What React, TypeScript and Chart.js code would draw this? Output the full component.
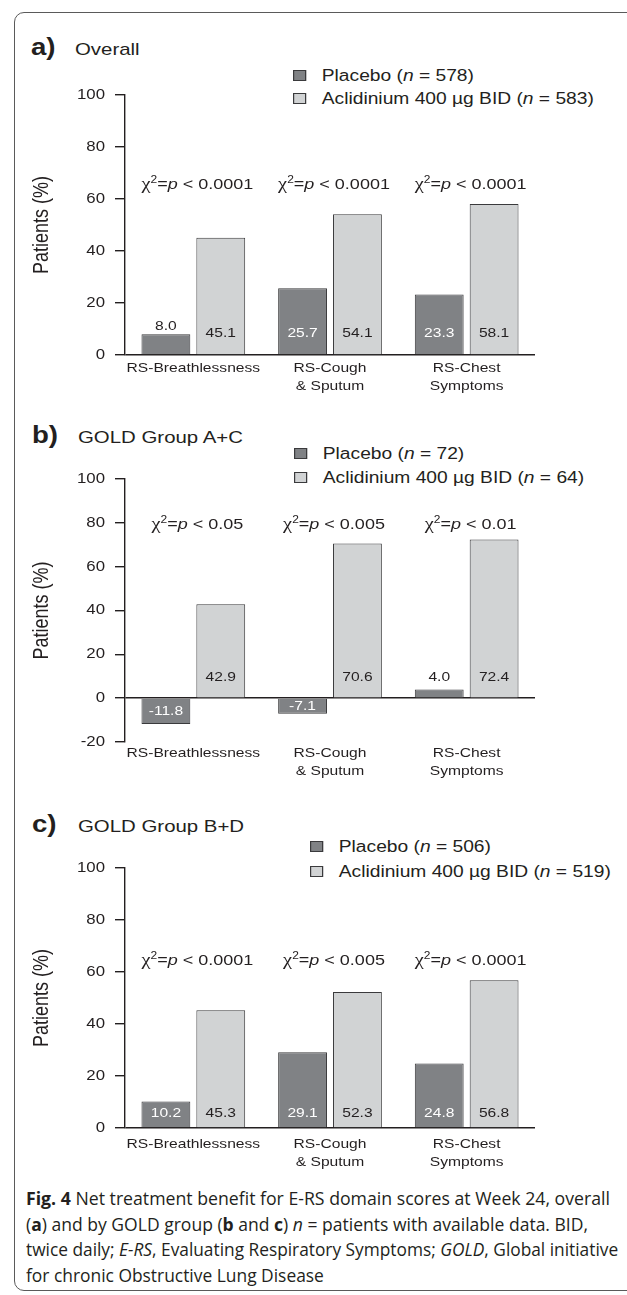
import React, { useEffect, useLayoutEffect, useRef } from 'react';
import { Chart, registerables } from 'chart.js';

Chart.register(...registerables);

// ---------- data ----------
const categories: (string | string[])[] = ['RS-Breathlessness', ['RS-Cough', '& Sputum'], ['RS-Chest', 'Symptoms']];
const placeboName = 'Placebo';
const aclidiniumName = 'Aclidinium 400 µg BID';
const yAxisTitle = 'Patients (%)';

const overallPlacebo = [8.0, 25.7, 23.3];
const overallAclidinium = [45.1, 54.1, 58.1];
const overallN = [578, 583];
const overallP = ['0.0001', '0.0001', '0.0001'];

const groupACPlacebo = [-11.8, -7.1, 4.0];
const groupACAclidinium = [42.9, 70.6, 72.4];
const groupACN = [72, 64];
const groupACP = ['0.05', '0.005', '0.01'];

const groupBDPlacebo = [10.2, 29.1, 24.8];
const groupBDAclidinium = [45.3, 52.3, 56.8];
const groupBDN = [506, 519];
const groupBDP = ['0.0001', '0.005', '0.0001'];

const yRangeMain = [0, 100];
const yRangeAC = [-20, 100];
const yStep = 20;

// ---------- style ----------
const FONT = "'Liberation Sans', Arial, Helvetica, sans-serif";
const GREEK_FONT = "'Liberation Serif', 'DejaVu Serif', serif";
const CAPTION_FONT = "'Open Sans', 'Noto Sans', sans-serif";
const TEXT = '#231f20';
const AXIS = '#231f20';
const PLACEBO_FILL = '#808285';
const ACLID_FILL = '#d1d3d4';
const BAR_EDGE = '#3a3a3c';
const SX = 1.2; // horizontal stretch of the figure's lettering
const PAGE_W = 627;
const PLOT_LEFT = 125;
const PLOT_RIGHT = 535;

const panels = [
  {
    letter: 'a)', title: 'Overall', placebo: overallPlacebo, aclidinium: overallAclidinium, n: overallN, pValues: overallP, range: yRangeMain,
    look: { baseline: 55, letterX: 31, titleX: 75, legendX: 293, legendBaselines: [82, 105], yTop: 95, yBottom: 355, chiGap: 20, valueOffset: 22, catPad: 4 },
  },
  {
    letter: 'b)', title: 'GOLD Group A+C', placebo: groupACPlacebo, aclidinium: groupACAclidinium, n: groupACN, pValues: groupACP, range: yRangeAC,
    look: { baseline: 443, letterX: 32, titleX: 78, legendX: 294, legendBaselines: [460, 484], yTop: 479, yBottom: 742, chiGap: 16, valueOffset: 21, catPad: 2 },
  },
  {
    letter: 'c)', title: 'GOLD Group B+D', placebo: groupBDPlacebo, aclidinium: groupBDAclidinium, n: groupBDN, pValues: groupBDP, range: yRangeMain,
    look: { baseline: 832, letterX: 32, titleX: 78, legendX: 310, legendBaselines: [853, 878], yTop: 868, yBottom: 1128, chiGap: 21, valueOffset: 15, catPad: 7 },
  },
];

const CAPTION_LEFT = 26;
const captionRight = [610, 588, 618, 324];
const captionBaselines = [1205, 1231, 1256, 1282];
const CAPTION_SIZE = 18.5;

// ---------- helpers ----------
function patchContext(ctx: any) {
  if (ctx.__stretched) return;
  const raw = ctx.fillText;
  ctx.fillText = function (text: string, x: number, y: number, maxWidth?: number) {
    const m = this.getTransform();
    const p = m.transformPoint(new DOMPoint(x, y));
    this.save();
    this.setTransform(new DOMMatrix().translate(p.x, p.y).scale(SX, 1).translate(-p.x, -p.y).multiply(m));
    if (maxWidth === undefined) raw.call(this, text, x, y);
    else raw.call(this, text, x, y, maxWidth);
    this.restore();
  };
  ctx.__stretched = true;
}

function drawChi(ctx: CanvasRenderingContext2D, cx: number, cy: number, p: string) {
  const base = `15px ${FONT}`;
  const segs = [
    { t: 'χ', font: `17px ${GREEK_FONT}`, dy: 0 },
    { t: '2', font: `10px ${FONT}`, dy: -6 },
    { t: '=', font: base, dy: 0 },
    { t: 'p', font: `italic ${base}`, dy: 0 },
    { t: ` < ${p}`, font: base, dy: 0 },
  ];
  let total = 0;
  const ws = segs.map((s) => {
    ctx.font = s.font;
    const w = ctx.measureText(s.t).width;
    total += w;
    return w;
  });
  let x = cx - (total * SX) / 2;
  const baseline = cy + 5.4;
  ctx.textAlign = 'left';
  ctx.textBaseline = 'alphabetic';
  ctx.fillStyle = TEXT;
  segs.forEach((s, i) => {
    ctx.font = s.font;
    ctx.fillText(s.t, x, baseline + s.dy);
    x += ws[i] * SX;
  });
}

function makeAnnotations(panel: any) {
  return {
    id: 'panelAnnotations',
    afterDraw(chart: any) {
      const { ctx } = chart;
      const yScale = chart.scales.y;
      const xScale = chart.scales.x;
      const zero = yScale.getPixelForValue(0);
      ctx.save();
      chart.data.datasets.forEach((ds: any, di: number) => {
        const meta = chart.getDatasetMeta(di);
        meta.data.forEach((el: any, j: number) => {
          const v = ds.data[j] as number;
          const top = el.y;
          let y: number;
          let inside: boolean;
          if (v < 0) {
            y = (zero + top) / 2;
            inside = true;
          } else {
            const iy = zero - panel.look.valueOffset;
            if (iy - 6 >= top) {
              y = iy;
              inside = true;
            } else {
              y = Math.min(iy, top - 8);
              inside = false;
            }
          }
          ctx.font = `13px ${FONT}`;
          ctx.textAlign = 'center';
          ctx.textBaseline = 'middle';
          ctx.fillStyle = inside && di === 0 ? '#ffffff' : TEXT;
          ctx.fillText(v.toFixed(1), el.x, y);
        });
      });
      const maxVal = Math.max(...panel.placebo, ...panel.aclidinium);
      const cy = yScale.getPixelForValue(maxVal) - panel.look.chiGap;
      panel.pValues.forEach((p: string, j: number) => drawChi(ctx, xScale.getPixelForValue(j) + 4, cy, p));
      ctx.restore();
    },
  };
}

const topFor = (baseline: number, size: number) => baseline - 0.8465 * size;

// ---------- components ----------
function PanelChart({ panel }: { panel: any }) {
  const ref = useRef<HTMLCanvasElement>(null);
  const L = panel.look;
  const canvasTop = L.yTop - 35;
  const H = L.yBottom - canvasTop + 55;

  useEffect(() => {
    const canvas = ref.current!;
    const ctx = canvas.getContext('2d')!;
    patchContext(ctx);
    const chart = new Chart(canvas, {
      type: 'bar',
      data: {
        labels: categories as any,
        datasets: [
          {
            label: placeboName, data: panel.placebo, backgroundColor: PLACEBO_FILL, borderColor: BAR_EDGE, borderWidth: 1,
            categoryPercentage: 0.803, barPercentage: 0.89,
          },
          {
            label: aclidiniumName, data: panel.aclidinium, backgroundColor: ACLID_FILL, borderColor: BAR_EDGE, borderWidth: 1,
            categoryPercentage: 0.803, barPercentage: 0.89,
          },
        ],
      },
      options: {
        responsive: false,
        animation: false,
        layout: { padding: { left: 0, right: PAGE_W - PLOT_RIGHT, top: 35, bottom: 10 } },
        plugins: { legend: { display: false }, tooltip: { enabled: false } },
        scales: {
          x: {
            grid: { display: false, drawTicks: false },
            border: { display: false },
            ticks: {
              color: TEXT, font: { family: FONT, size: 13, lineHeight: 1.4 }, padding: L.catPad,
              maxRotation: 0, autoSkip: false,
            },
            afterFit: (s: any) => { s.height = 45; },
          },
          y: {
            min: panel.range[0], max: panel.range[1],
            z: 1,
            ticks: { stepSize: yStep, color: TEXT, font: { family: FONT, size: 14 }, padding: 10 },
            grid: {
              color: (c: any) => (c.tick && c.tick.value === 0 ? AXIS : 'rgba(0,0,0,0)'),
              tickColor: AXIS, tickLength: 10, lineWidth: 1.4, drawOnChartArea: true, drawTicks: true,
            },
            border: { display: true, color: AXIS, width: 1.4 },
            title: {
              display: true, text: yAxisTitle, color: TEXT, font: { family: FONT, size: 18 },
              padding: { top: 31, bottom: 0 },
            },
            afterFit: (s: any) => { s.width = PLOT_LEFT; },
          },
        },
      } as any,
      plugins: [makeAnnotations(panel)],
    });
    return () => chart.destroy();
  }, []);

  const stretch: React.CSSProperties = {
    position: 'absolute', transform: `scaleX(${SX})`, transformOrigin: '0 0', whiteSpace: 'nowrap', color: TEXT,
  };
  const legendNames = [placeboName, aclidiniumName];
  const legendFills = [PLACEBO_FILL, ACLID_FILL];

  return (
    <>
      <div style={{ ...stretch, left: L.letterX, top: topFor(L.baseline, 23), font: `bold 23px ${FONT}`, lineHeight: '23px' }}>
        {panel.letter}
      </div>
      <div style={{ ...stretch, left: L.titleX, top: topFor(L.baseline, 17), font: `17px ${FONT}`, lineHeight: '17px' }}>
        {panel.title}
      </div>
      {legendNames.map((name, i) => (
        <div
          key={name}
          style={{ ...stretch, left: L.legendX, top: topFor(L.legendBaselines[i], 16), font: `16px ${FONT}`, lineHeight: '16px' }}
        >
          <span
            style={{
              display: 'inline-block', width: 9, height: 9, border: `1px solid ${BAR_EDGE}`, background: legendFills[i],
              marginRight: 13, verticalAlign: 'baseline',
            }}
          />
          {name} (<i>n</i> = {panel.n[i]})
        </div>
      ))}
      <canvas
        ref={ref}
        width={PAGE_W}
        height={H}
        style={{ position: 'absolute', left: 0, top: canvasTop, width: PAGE_W, height: H }}
      />
    </>
  );
}

function Caption() {
  const refs = useRef<(HTMLDivElement | null)[]>([]);
  useLayoutEffect(() => {
    refs.current.forEach((el, i) => {
      if (!el) return;
      const natural = el.offsetWidth;
      if (natural > 0) el.style.transform = `scaleX(${(captionRight[i] - CAPTION_LEFT) / natural})`;
    });
  }, []);
  const lines = [
    <><b>Fig. 4</b> Net treatment benefit for E-RS domain scores at Week 24, overall</>,
    <>(<b>a</b>) and by GOLD group (<b>b</b> and <b>c</b>) <i>n</i> = patients with available data. BID,</>,
    <>twice daily; <i>E-RS</i>, Evaluating Respiratory Symptoms; <i>GOLD</i>, Global initiative</>,
    <>for chronic Obstructive Lung Disease</>,
  ];
  return (
    <>
      {lines.map((content, i) => (
        <div
          key={i}
          ref={(el) => { refs.current[i] = el; }}
          style={{
            position: 'absolute', left: CAPTION_LEFT, top: captionBaselines[i] - 0.888 * CAPTION_SIZE,
            font: `${CAPTION_SIZE}px ${CAPTION_FONT}`, lineHeight: `${CAPTION_SIZE}px`, whiteSpace: 'nowrap',
            color: TEXT, transformOrigin: '0 0',
          }}
        >
          {content}
        </div>
      ))}
    </>
  );
}

export default function App() {
  useLayoutEffect(() => {
    document.body.style.margin = '0';
  }, []);
  return (
    <div style={{ position: 'relative', width: PAGE_W, height: 1295, overflow: 'hidden', background: '#ffffff' }}>
      <style>{'body{margin:0}'}</style>
      <div
        style={{
          position: 'absolute', left: 14, top: 12, width: 680, height: 1279,
          border: '1.5px solid #5a5a5a', borderRadius: 10, boxSizing: 'border-box',
        }}
      />
      {panels.map((p) => (
        <PanelChart key={p.letter} panel={p} />
      ))}
      <Caption />
    </div>
  );
}
